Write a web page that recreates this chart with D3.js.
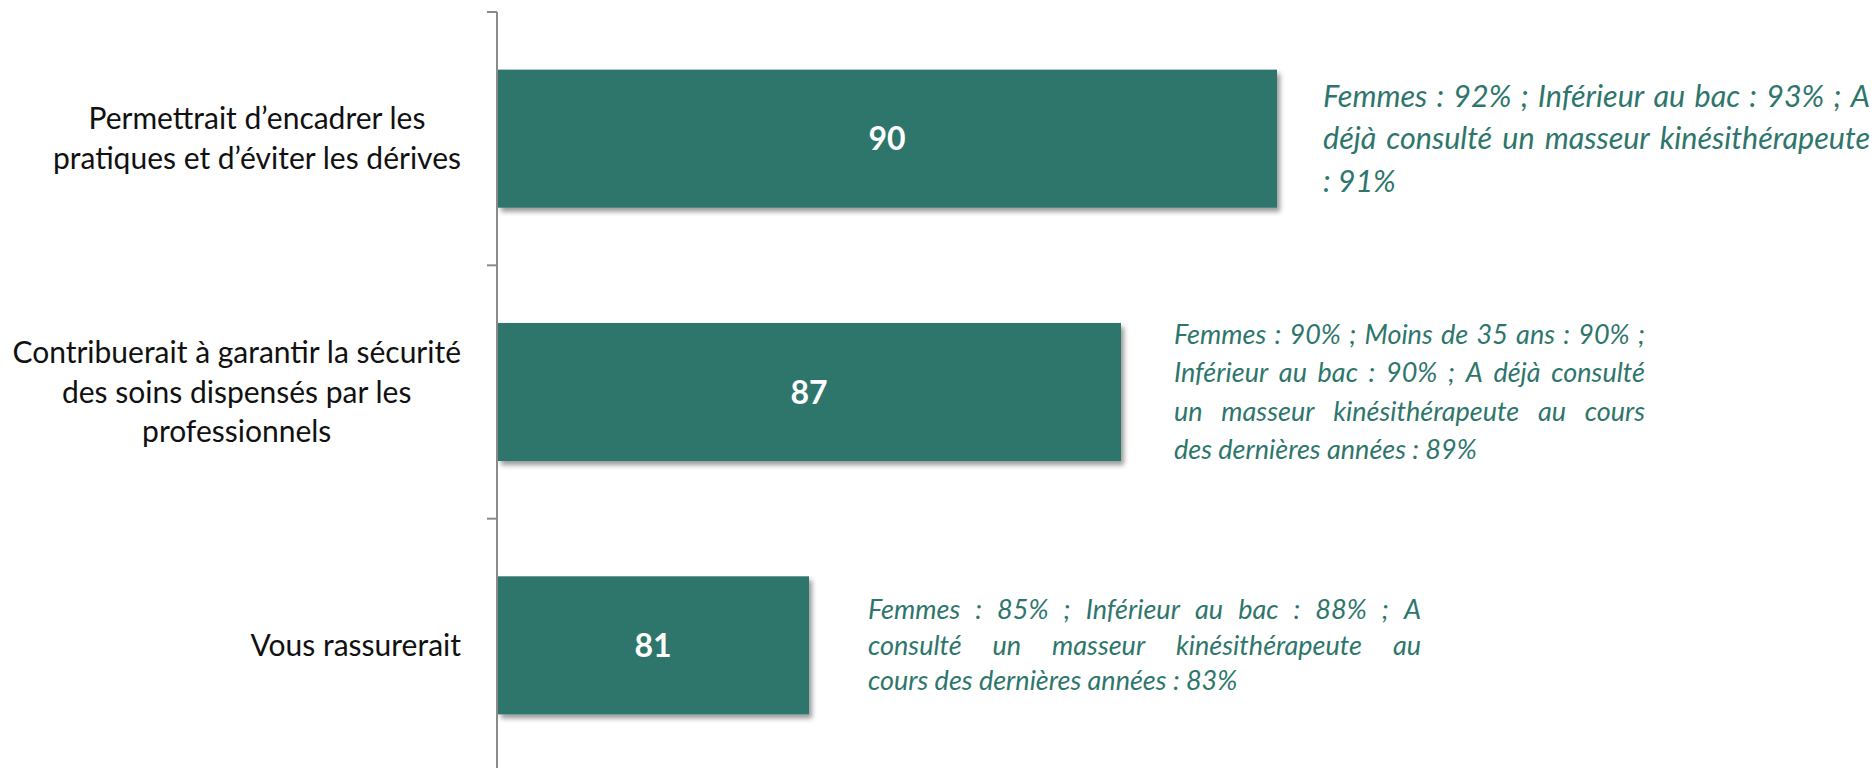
<!DOCTYPE html>
<html lang="fr">
<head>
    <meta charset="UTF-8">
    <title>Encadrement des pratiques</title>
    <script src="https://d3js.org/d3.v7.min.js"></script>
    <style>
        body {
            margin: 0;
            background: #fff;
            font-family: Lato, "DejaVu Sans", sans-serif;
        }
        svg { display: block; }
    </style>
</head>
<body>
    <div id="chart"></div>
    <script>
        // data
        const categories = [
            ["Permettrait d’encadrer les", "pratiques et d’éviter les dérives"],
            ["Contribuerait à garantir la sécurité", "des soins dispensés par les", "professionnels"],
            ["Vous rassurerait"]
        ];
        const values = [90, 87, 81];
        const notes = [
            ["Femmes : 92% ; Inférieur au bac : 93% ; A",
             "déjà consulté un masseur kinésithérapeute",
             ": 91%"],
            ["Femmes : 90% ; Moins de 35 ans : 90% ;",
             "Inférieur au bac : 90% ; A déjà consulté",
             "un masseur kinésithérapeute au cours",
             "des dernières années : 89%"],
            ["Femmes : 85% ; Inférieur au bac : 88% ; A",
             "consulté un masseur kinésithérapeute au",
             "cours des dernières années : 83%"]
        ];

        // text boxes beside each bar (layout only)
        const noteGap = [46, 53, 59];
        const noteWidth = [547, 471, 553];
        const noteSize = [30.5, 27, 27];
        const noteLead = [42.5, 38.5, 35.5];

        const W = 1876, H = 768;
        const teal = "#2e766c";

        const svg = d3.select("#chart").append("svg")
            .attr("width", W).attr("height", H);

        const defs = svg.append("defs");
        defs.append("filter").attr("id", "shadow")
            .attr("x", "-5%").attr("y", "-10%").attr("width", "115%").attr("height", "130%")
            .append("feDropShadow")
            .attr("dx", 3).attr("dy", 4).attr("stdDeviation", 2.5)
            .attr("flood-color", "#000").attr("flood-opacity", 0.4);

        const x = d3.scaleLinear().domain([75, 100]).range([497, 1797]);
        const y = d3.scaleBand()
            .domain(d3.range(values.length))
            .range([12, 772])
            .paddingInner(0.455)
            .paddingOuter(0.2275);

        // bars
        svg.append("g").selectAll("rect")
            .data(values)
            .join("rect")
            .attr("x", x(75) + 1)
            .attr("y", (d, i) => y(i))
            .attr("width", d => x(d) - x(75) - 1)
            .attr("height", y.bandwidth())
            .attr("fill", teal)
            .attr("filter", "url(#shadow)");

        // vertical axis with ticks between categories
        const ax = svg.append("g");
        ax.append("line")
            .attr("x1", x(75)).attr("x2", x(75))
            .attr("y1", y.range()[0]).attr("y2", H)
            .attr("stroke", "#8a8a8a").attr("stroke-width", 2);
        ax.selectAll(".tick")
            .data(d3.range(values.length))
            .join("line")
            .attr("x1", x(75) - 10).attr("x2", x(75))
            .attr("y1", i => y.range()[0] + i * y.step())
            .attr("y2", i => y.range()[0] + i * y.step())
            .attr("stroke", "#8a8a8a").attr("stroke-width", 2);

        // value labels
        svg.append("g").selectAll("text")
            .data(values)
            .join("text")
            .attr("x", d => (x(75) + x(d)) / 2)
            .attr("y", (d, i) => y(i) + y.bandwidth() / 2)
            .attr("dy", "0.36em")
            .attr("text-anchor", "middle")
            .attr("fill", "#fff")
            .attr("font-weight", "bold")
            .attr("font-size", 32)
            .text(d => d);

        // category labels: lines centred inside a right-aligned block
        const labelRight = 461, catSize = 30, catLead = 39.5;
        categories.forEach((lines, i) => {
            const g = svg.append("g");
            const texts = lines.map(l => g.append("text")
                .attr("font-size", catSize)
                .attr("fill", "#111")
                .attr("text-anchor", "middle")
                .text(l));
            const wmax = d3.max(texts, t => t.node().getComputedTextLength());
            const cy = y(i) + y.bandwidth() / 2;
            const top = cy - (lines.length - 1) * catLead / 2;
            texts.forEach((t, j) => t
                .attr("x", labelRight - wmax / 2)
                .attr("y", top + j * catLead)
                .attr("dy", "0.35em"));
        });

        // justified italic notes
        notes.forEach((lines, i) => {
            const g = svg.append("g")
                .attr("font-style", "italic")
                .attr("font-size", noteSize[i])
                .attr("fill", teal);
            const left = x(values[i]) + noteGap[i];
            const cy = y(i) + y.bandwidth() / 2;
            const top = cy - (lines.length - 1) * noteLead[i] / 2;
            lines.forEach((line, j) => {
                const t = g.append("text")
                    .attr("y", top + j * noteLead[i])
                    .attr("dy", "0.35em");
                const words = line.split(/\s+/);
                if (j === lines.length - 1 || words.length < 2) {
                    t.attr("x", left).text(line);
                    return;
                }
                const widths = words.map(w => {
                    const tmp = g.append("text").text(w);
                    const len = tmp.node().getComputedTextLength();
                    tmp.remove();
                    return len;
                });
                const gap = (noteWidth[i] - d3.sum(widths)) / (words.length - 1);
                let cx = left;
                words.forEach((w, k) => {
                    t.append("tspan").attr("x", cx).text(w);
                    cx += widths[k] + gap;
                });
            });
        });
    </script>
</body>
</html>
